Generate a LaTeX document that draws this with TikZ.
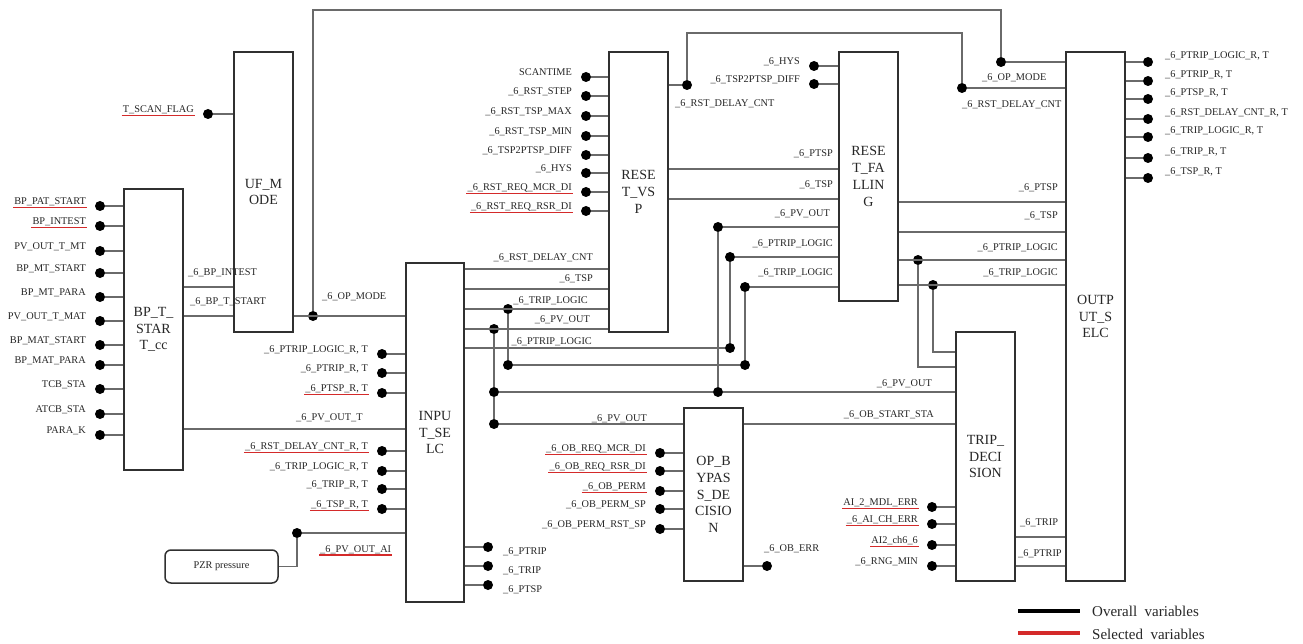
\documentclass[tikz,border=0pt]{standalone}
\usepackage{fontspec}
\setmainfont{Liberation Serif}
\definecolor{wirec}{HTML}{6A6A6A}
\definecolor{boxc}{HTML}{303030}
\definecolor{txt}{HTML}{262626}
\definecolor{selred}{HTML}{D42A2A}
\newcommand\lblfont{\fontsize{10.3}{12}\selectfont}
\newcommand\boxfont{\fontsize{14}{16.8}\selectfont}
\newcommand\legfont{\fontsize{15}{18}\selectfont}
\newcommand\Lpin[5]{%
  \node[pdot] (#1) at (#2,#3) {};
  \node[lbl,anchor=base east] (#1t) at ([xshift=-14pt,yshift=1.5pt]#1.center) {#5};
  \draw[wire] (#1) -- (#1 -| #4.west);
}
\newcommand\Rpin[7]{%
  \node[pdot] (#1) at (#2,#3) {};
  \node[lbl,anchor=base west] (#1t) at ([xshift=#6,yshift=#7]#1.center) {#5};
  \draw[wire] (#1 -| #4.east) -- (#1);
}
\newcommand\Ulin[1]{\draw[selline] ([xshift=-1pt,yshift=-3pt]#1.base west) -- ([xshift=1pt,yshift=-3pt]#1.base east);}
\begin{document}
\begin{tikzpicture}[x=1pt,y=-1pt,
  blk/.style={draw=boxc,line width=1.5pt,fill=white,inner sep=0pt,align=center,font=\boxfont,text=txt},
  wire/.style={draw=wirec,line width=1.2pt},
  pdot/.style={circle,fill=black,inner sep=0pt,minimum size=10pt},
  lbl/.style={inner sep=0pt,font=\lblfont,text=txt},
  selline/.style={draw=selred,line width=1.6pt}]
\useasboundingbox (0,0) rectangle (1303,644);

% ---------- blocks
\node[blk,minimum width=59pt,minimum height=281pt] (bp) at (153.5,329.5) {BP\_T\_\\STAR\\T\_cc};
\node[blk,minimum width=59pt,minimum height=280pt] (uf) at (263.5,192) {UF\_M\\ODE};
\node[blk,minimum width=58pt,minimum height=339pt] (insel) at (435,432.5) {INPU\\T\_SE\\LC};
\node[blk,minimum width=59pt,minimum height=280pt] (rvsp) at (638.5,192) {RESE\\T\_VS\\P};
\node[blk,minimum width=59pt,minimum height=249pt] (rfal) at (868.5,176.5) {RESE\\T\_FA\\LLIN\\G};
\node[blk,minimum width=59pt,minimum height=529pt] (osel) at (1095.5,316.5) {OUTP\\UT\_S\\ELC};
\node[blk,minimum width=59pt,minimum height=173pt] (opb) at (713.5,494.5) {OP\_B\\YPAS\\S\_DE\\CISIO\\N};
\node[blk,minimum width=59pt,minimum height=249pt] (trip) at (985.5,456.5) {TRIP\_\\DECI\\SION};
\node[blk,rounded corners=6pt,minimum width=113pt,minimum height=33pt,font=\lblfont] (pzr) at (221.5,566.5) {PZR pressure};

% ---------- BP_T_START_cc inputs
\Lpin{b1}{100}{206}{bp}{BP\_PAT\_START}\Ulin{b1t}
\Lpin{b2}{100}{226}{bp}{BP\_INTEST}\Ulin{b2t}
\Lpin{b3}{100}{251}{bp}{PV\_OUT\_T\_MT}
\Lpin{b4}{100}{273}{bp}{BP\_MT\_START}
\Lpin{b5}{100}{297}{bp}{BP\_MT\_PARA}
\Lpin{b6}{100}{321}{bp}{PV\_OUT\_T\_MAT}
\Lpin{b7}{100}{345}{bp}{BP\_MAT\_START}
\Lpin{b8}{100}{365}{bp}{BP\_MAT\_PARA}
\Lpin{b9}{100}{389}{bp}{TCB\_STA}
\Lpin{b10}{100}{414}{bp}{ATCB\_STA}
\Lpin{b11}{100}{435}{bp}{PARA\_K}

% ---------- UF_MODE input
\Lpin{u1}{208}{114}{uf}{T\_SCAN\_FLAG}\Ulin{u1t}

% ---------- RESET_VSP inputs
\Lpin{v1}{586}{77}{rvsp}{SCANTIME}
\Lpin{v2}{586}{96}{rvsp}{\_6\_RST\_STEP}
\Lpin{v3}{586}{116}{rvsp}{\_6\_RST\_TSP\_MAX}
\Lpin{v4}{586}{136}{rvsp}{\_6\_RST\_TSP\_MIN}
\Lpin{v5}{586}{155}{rvsp}{\_6\_TSP2PTSP\_DIFF}
\Lpin{v6}{586}{173}{rvsp}{\_6\_HYS}
\Lpin{v7}{586}{192}{rvsp}{\_6\_RST\_REQ\_MCR\_DI}\Ulin{v7t}
\Lpin{v8}{586}{211}{rvsp}{\_6\_RST\_REQ\_RSR\_DI}\Ulin{v8t}

% ---------- RESET_FALLING inputs
\Lpin{f1}{814}{66}{rfal}{\_6\_HYS}
\Lpin{f2}{814}{84}{rfal}{\_6\_TSP2PTSP\_DIFF}

% ---------- INPUT_SELC inputs
\Lpin{i1}{382}{354}{insel}{\_6\_PTRIP\_LOGIC\_R, T}
\Lpin{i2}{382}{373}{insel}{\_6\_PTRIP\_R, T}
\Lpin{i3}{382}{393}{insel}{\_6\_PTSP\_R, T}\Ulin{i3t}
\Lpin{i4}{382}{451}{insel}{\_6\_RST\_DELAY\_CNT\_R, T}\Ulin{i4t}
\Lpin{i5}{382}{471}{insel}{\_6\_TRIP\_LOGIC\_R, T}
\Lpin{i6}{382}{489}{insel}{\_6\_TRIP\_R, T}
\Lpin{i7}{382}{509}{insel}{\_6\_TSP\_R, T}\Ulin{i7t}

% ---------- INPUT_SELC outputs
\Rpin{o1}{488}{547}{insel}{\_6\_PTRIP}{15pt}{-7.5pt}
\Rpin{o2}{488}{566}{insel}{\_6\_TRIP}{15pt}{-7.5pt}
\Rpin{o3}{488}{585}{insel}{\_6\_PTSP}{15pt}{-7.5pt}

% ---------- OP_BYPASS_DECISION inputs
\Lpin{p1}{660}{453}{opb}{\_6\_OB\_REQ\_MCR\_DI}\Ulin{p1t}
\Lpin{p2}{660}{471}{opb}{\_6\_OB\_REQ\_RSR\_DI}\Ulin{p2t}
\Lpin{p3}{660}{491}{opb}{\_6\_OB\_PERM}\Ulin{p3t}
\Lpin{p4}{660}{509}{opb}{\_6\_OB\_PERM\_SP}
\Lpin{p5}{660}{529}{opb}{\_6\_OB\_PERM\_RST\_SP}

% ---------- TRIP_DECISION inputs
\Lpin{t1}{932}{507}{trip}{AI\_2\_MDL\_ERR}\Ulin{t1t}
\Lpin{t2}{932}{524}{trip}{\_6\_AI\_CH\_ERR}\Ulin{t2t}
\Lpin{t3}{932}{545}{trip}{AI2\_ch6\_6}\Ulin{t3t}
\Lpin{t4}{932}{566}{trip}{\_6\_RNG\_MIN}

% ---------- OUTPUT_SELC outputs
\Rpin{s1}{1148}{62}{osel}{\_6\_PTRIP\_LOGIC\_R, T}{17pt}{3.5pt}
\Rpin{s2}{1148}{81}{osel}{\_6\_PTRIP\_R, T}{17pt}{3.5pt}
\Rpin{s3}{1148}{99}{osel}{\_6\_PTSP\_R, T}{17pt}{3.5pt}
\Rpin{s4}{1148}{119}{osel}{\_6\_RST\_DELAY\_CNT\_R, T}{17pt}{3.5pt}
\Rpin{s5}{1148}{137}{osel}{\_6\_TRIP\_LOGIC\_R, T}{17pt}{3.5pt}
\Rpin{s6}{1148}{158}{osel}{\_6\_TRIP\_R, T}{17pt}{3.5pt}
\Rpin{s7}{1148}{178}{osel}{\_6\_TSP\_R, T}{17pt}{3.5pt}

% ---------- BP -> UF, BP -> INPUT
\draw[wire] (bp.east |- 0,287) -- (uf.west |- 0,287);
\node[lbl,anchor=base west] (lbpint) at (188,276) {\_6\_BP\_INTEST};
\draw[wire] (bp.east |- 0,316) -- (uf.west |- 0,316);
\node[lbl,anchor=base west] (lbpts) at (190,305) {\_6\_BP\_T\_START};
\draw[wire] (bp.east |- 0,429) -- (insel.west |- 0,429);
\node[lbl,anchor=base west] (lpvt) at (296,420) {\_6\_PV\_OUT\_T};

% ---------- OP_MODE
\node[pdot] (opm) at (313,316) {};
\node[pdot] (opm2) at (1001,62) {};
\coordinate (topA) at (313,10);
\draw[wire] (uf.east |- opm) -- (insel.west |- opm);
\draw[wire] (opm) -- (topA) -| (opm2);
\draw[wire] (opm2) -- (opm2 -| osel.west);
\node[lbl,anchor=base west] (lopm) at (322,299) {\_6\_OP\_MODE};
\node[lbl,anchor=base west] (lopm2) at (982,81) {\_6\_OP\_MODE};

% ---------- PZR pressure
\node[pdot] (pvai) at (297,533) {};
\draw[wire] (pzr.east) -- (pzr.east -| pvai) -- (pvai);
\draw[wire] (pvai) -- (pvai -| insel.west);
\node[lbl,anchor=base west] (lpvai) at (320,552) {\_6\_PV\_OUT\_AI};
\Ulin{lpvai}

% ---------- RST_DELAY_CNT from RESET_VSP
\node[pdot] (rdc) at (687,85) {};
\node[pdot] (rdc2) at (962,88) {};
\coordinate (topB) at (687,33);
\draw[wire] (rvsp.east |- rdc) -- (rdc);
\draw[wire] (rdc) -- (topB) -| (rdc2);
\draw[wire] (rdc2) -- (rdc2 -| osel.west);
\node[lbl,anchor=base west] (lrdc) at (675,107) {\_6\_RST\_DELAY\_CNT};
\node[lbl,anchor=base west] (lrdc2) at (962,108) {\_6\_RST\_DELAY\_CNT};

% ---------- RESET_VSP -> RESET_FALLING
\draw[wire] (rvsp.east |- 0,169) -- (rfal.west |- 0,169);
\node[lbl,anchor=base east] (lvf1) at (833,157) {\_6\_PTSP};
\draw[wire] (rvsp.east |- 0,199) -- (rfal.west |- 0,199);
\node[lbl,anchor=base east] (lvf2) at (833,188) {\_6\_TSP};

% ---------- INPUT_SELC -> RESET_VSP
\draw[wire] (insel.east |- 0,269) -- (rvsp.west |- 0,269);
\node[lbl,anchor=base east] (liv1) at (593,261) {\_6\_RST\_DELAY\_CNT};
\draw[wire] (insel.east |- 0,289) -- (rvsp.west |- 0,289);
\node[lbl,anchor=base east] (liv2) at (593,282) {\_6\_TSP};

% TRIP_LOGIC
\node[pdot] (tl1) at (508,309) {};
\node[pdot] (tl2) at (508,365) {};
\node[pdot] (tl3) at (745,365) {};
\node[pdot] (tl4) at (745,287) {};
\draw[wire] (insel.east |- tl1) -- (rvsp.west |- tl1);
\draw[wire] (tl1) -- (tl2) -- (tl3) -- (tl4) -- (tl4 -| rfal.west);
\node[lbl,anchor=base east] (liv3) at (588,303) {\_6\_TRIP\_LOGIC};
\node[lbl,anchor=base east] (lrf3) at (833,276) {\_6\_TRIP\_LOGIC};

% PV_OUT
\node[pdot] (pv1) at (494,329) {};
\node[pdot] (pv2) at (494,392) {};
\node[pdot] (pv3) at (494,424) {};
\node[pdot] (pv4) at (718,392) {};
\node[pdot] (pv5) at (718,227) {};
\draw[wire] (insel.east |- pv1) -- (rvsp.west |- pv1);
\draw[wire] (pv1) -- (pv2) -- (pv3);
\draw[wire] (pv2) -- (pv4) -- (trip.west |- pv4);
\draw[wire] (pv4) -- (pv5) -- (pv5 -| rfal.west);
\draw[wire] (pv3) -- (pv3 -| opb.west);
\node[lbl,anchor=base east] (liv4) at (590,322) {\_6\_PV\_OUT};
\node[lbl,anchor=base east] (lrf1) at (830,217) {\_6\_PV\_OUT};
\node[lbl,anchor=base east] (ltr1) at (932,386) {\_6\_PV\_OUT};
\node[lbl,anchor=base east] (lob1) at (647,421) {\_6\_PV\_OUT};

% PTRIP_LOGIC
\node[pdot] (ptl1) at (730,348) {};
\node[pdot] (ptl2) at (730,257) {};
\draw[wire] (insel.east |- ptl1) -- (ptl1) -- (ptl2) -- (ptl2 -| rfal.west);
\node[lbl,anchor=base east] (liv5) at (592,344) {\_6\_PTRIP\_LOGIC};
\node[lbl,anchor=base east] (lrf2) at (833,247) {\_6\_PTRIP\_LOGIC};

% ---------- RESET_FALLING -> OUTPUT_SELC / TRIP_DECISION
\draw[wire] (rfal.east |- 0,202) -- (osel.west |- 0,202);
\node[lbl,anchor=base east] (lfo1) at (1058,191) {\_6\_PTSP};
\draw[wire] (rfal.east |- 0,232) -- (osel.west |- 0,232);
\node[lbl,anchor=base east] (lfo2) at (1058,219) {\_6\_TSP};
\node[pdot] (pl) at (918,260) {};
\coordinate (plc) at (918,367);
\draw[wire] (rfal.east |- pl) -- (osel.west |- pl);
\draw[wire] (pl) -- (plc) -- (trip.west |- plc);
\node[lbl,anchor=base east] (lfo3) at (1058,251) {\_6\_PTRIP\_LOGIC};
\node[pdot] (tlg) at (933,285) {};
\coordinate (tlc) at (933,352);
\draw[wire] (rfal.east |- tlg) -- (osel.west |- tlg);
\draw[wire] (tlg) -- (tlc) -- (trip.west |- tlc);
\node[lbl,anchor=base east] (lfo4) at (1058,276) {\_6\_TRIP\_LOGIC};

% ---------- OP_BYPASS outputs
\draw[wire] (opb.east |- 0,424) -- (trip.west |- 0,424);
\node[lbl,anchor=base east] (lobs) at (934,417) {\_6\_OB\_START\_STA};
\node[pdot] (oberr) at (767,566) {};
\draw[wire] (opb.east |- oberr) -- (oberr);
\node[lbl,anchor=base west] (loberr) at (764,551) {\_6\_OB\_ERR};

% ---------- TRIP_DECISION -> OUTPUT_SELC
\draw[wire] (trip.east |- 0,537) -- (osel.west |- 0,537);
\node[lbl,anchor=base west] (lto1) at (1020,525) {\_6\_TRIP};
\draw[wire] (trip.east |- 0,566) -- (osel.west |- 0,566);
\node[lbl,anchor=base west] (lto2) at (1018,556) {\_6\_PTRIP};

% ---------- legend
\coordinate (lgA) at (1018,611);
\coordinate (lgB) at (1080,611);
\coordinate (lgC) at (1018,633);
\coordinate (lgD) at (1080,633);
\draw[line width=3.2pt,black] (lgA) -- (lgB);
\draw[line width=3.2pt,selred] (lgC) -- (lgD);
\node[inner sep=0pt,anchor=base west,font=\legfont,text=txt] (lg1) at (1092,616) {Overall\ \ variables};
\node[inner sep=0pt,anchor=base west,font=\legfont,text=txt] (lg2) at (1092,639) {Selected\ \ variables};
\end{tikzpicture}
\end{document}
